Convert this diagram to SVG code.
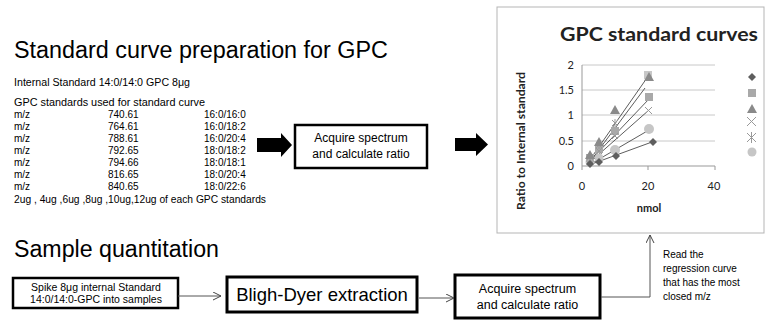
<svg xmlns="http://www.w3.org/2000/svg" width="768" height="324" viewBox="0 0 768 324">
<defs>
<style>
.t{font-family:"Liberation Sans",Arial,sans-serif;fill:#000}
.h{font-size:23px}
.s{font-size:10px}
.box{fill:#fff;stroke:#000}
.c{font-family:Lato,"Open Sans",sans-serif;fill:#222}
.grid{stroke:#c8c8c8;stroke-width:1}
.reg{stroke:#333;stroke-width:0.8;fill:none}
.conn{stroke:#555;stroke-width:1;fill:none}
</style>
<marker id="open" markerWidth="10" markerHeight="10" refX="8" refY="4" orient="auto" markerUnits="userSpaceOnUse">
<path d="M0,0 L8,4 L0,8" fill="none" stroke="#444" stroke-width="1"/>
</marker>
<path id="dia" d="M0,-4 L4,0 L0,4 L-4,0Z"/>
<rect id="sq" x="-4" y="-4" width="8" height="8"/>
<path id="tri" d="M0,-5 L5,4 L-5,4Z"/>
</defs>

<g id="prep-text">
<text class="t h" x="14" y="58" textLength="374" lengthAdjust="spacingAndGlyphs">Standard curve preparation for GPC</text>
<text class="t s" x="14" y="86" textLength="176" lengthAdjust="spacingAndGlyphs">Internal Standard 14:0/14:0 GPC 8μg</text>
<text class="t s" x="14" y="106" textLength="191" lengthAdjust="spacingAndGlyphs">GPC standards used for standard curve</text>
<g class="t s">
<text x="14" y="118">m/z</text><text x="108" y="118">740.61</text><text x="204" y="118">16:0/16:0</text>
<text x="14" y="130">m/z</text><text x="108" y="130">764.61</text><text x="204" y="130">16:0/18:2</text>
<text x="14" y="142">m/z</text><text x="108" y="142">788.61</text><text x="204" y="142">16:0/20:4</text>
<text x="14" y="154">m/z</text><text x="108" y="154">792.65</text><text x="204" y="154">18:0/18:2</text>
<text x="14" y="166">m/z</text><text x="108" y="166">794.66</text><text x="204" y="166">18:0/18:1</text>
<text x="14" y="178">m/z</text><text x="108" y="178">816.65</text><text x="204" y="178">18:0/20:4</text>
<text x="14" y="190">m/z</text><text x="108" y="190">840.65</text><text x="204" y="190">18:0/22:6</text>
</g>
<text class="t s" x="14" y="203" textLength="252" lengthAdjust="spacingAndGlyphs">2ug , 4ug ,6ug ,8ug ,10ug,12ug of each GPC standards</text>
</g>

<g id="acquire-top">
<rect class="box" x="295" y="125" width="132" height="43" stroke-width="2.5"/>
<text class="t" x="361" y="142" font-size="12" text-anchor="middle">Acquire spectrum</text>
<text class="t" x="361" y="158" font-size="12" text-anchor="middle">and calculate ratio</text>
</g>

<g id="chart">
<rect x="497" y="7" width="267" height="226" fill="#fff" stroke="#b5b5b5" stroke-width="1"/>
<text class="c" x="659" y="41" font-size="18" font-weight="bold" text-anchor="middle" textLength="198" lengthAdjust="spacingAndGlyphs">GPC standard curves</text>
<g>
<line class="grid" x1="582" y1="65" x2="715" y2="65"/>
<line class="grid" x1="582" y1="90" x2="715" y2="90"/>
<line class="grid" x1="582" y1="115" x2="715" y2="115"/>
<line class="grid" x1="582" y1="141" x2="715" y2="141"/>
<line x1="582" y1="166" x2="715" y2="166" stroke="#999"/>
<line x1="582" y1="65" x2="582" y2="166" stroke="#999"/>
<line x1="582" y1="166" x2="582" y2="170" stroke="#999"/>
<line x1="648" y1="166" x2="648" y2="170" stroke="#999"/>
<line x1="715" y1="166" x2="715" y2="170" stroke="#999"/>
</g>
<g class="c" font-size="11" text-anchor="end">
<text x="574" y="69">2</text>
<text x="574" y="94">1.5</text>
<text x="574" y="119">1</text>
<text x="574" y="145">0.5</text>
<text x="574" y="170">0</text>
</g>
<g class="c" font-size="11" text-anchor="middle">
<text x="582" y="190">0</text>
<text x="648" y="190">20</text>
<text x="714" y="190">40</text>
</g>
<text class="c" x="649" y="212" font-size="11" font-weight="bold" text-anchor="middle">nmol</text>
<text class="c" transform="translate(525,141) rotate(-90)" font-size="10.5" font-weight="bold" text-anchor="middle" textLength="138" lengthAdjust="spacingAndGlyphs">Ratio to Internal standard</text>

<g id="regression-lines">
<line class="reg" x1="589" y1="165" x2="652" y2="142"/>
<line class="reg" x1="589" y1="162" x2="649" y2="99"/>
<line class="reg" x1="589" y1="161" x2="649" y2="75"/>
<line class="reg" x1="589" y1="163" x2="649" y2="110"/>
<line class="reg" x1="589" y1="163" x2="645" y2="88"/>
<line class="reg" x1="589" y1="165" x2="649" y2="130"/>
</g>
<g id="points">
<g fill="#c6c6c6">
<circle cx="590" cy="162" r="4.5"/><circle cx="599" cy="158" r="4.5"/><circle cx="615" cy="150" r="5"/><circle cx="649" cy="129" r="5"/>
</g>
<g fill="#a9a9a9">
<use href="#sq" x="590" y="158"/><use href="#sq" x="599" y="149"/><use href="#sq" x="615" y="131"/><use href="#sq" x="649" y="97"/><use href="#sq" x="648" y="75" fill="#c8c8c8"/>
</g>
<g stroke="#999" stroke-width="1">
<path d="M587,157 l6,6 M593,157 l-6,6 M596,148 l6,6 M602,148 l-6,6 M612,133 l6,6 M618,133 l-6,6 M645,107 l7,7 M652,107 l-7,7"/>
<path d="M587,154 l6,6 M593,154 l-6,6 M590,153 v8 M596,142 l6,6 M602,142 l-6,6 M599,141 v8 M612,120 l6,6 M618,120 l-6,6 M615,119 v8"/>
</g>
<g fill="#8a8a8a">
<use href="#tri" x="590" y="155"/><use href="#tri" x="599" y="142"/><use href="#tri" x="615" y="110"/><use href="#tri" x="649" y="77"/>
</g>
<g fill="#5e5e5e">
<use href="#dia" x="590" y="164"/><use href="#dia" x="599" y="162"/><use href="#dia" x="616" y="156"/><use href="#dia" x="653" y="142"/>
</g>
</g>
<g id="legend">
<use href="#dia" x="752" y="77" fill="#5e5e5e"/>
<use href="#sq" x="752" y="93" fill="#a9a9a9"/>
<use href="#tri" x="752" y="109" fill="#8a8a8a"/>
<path d="M747,117 l9,9 M756,117 l-9,9" stroke="#999" stroke-width="1"/>
<path d="M747,133 l9,9 M756,133 l-9,9 M751.5,132 v11" stroke="#999" stroke-width="1"/>
<circle cx="752" cy="152" r="4.5" fill="#c6c6c6"/>
</g>
</g>

<g id="sample-text">
<text class="t h" x="14" y="257" textLength="205" lengthAdjust="spacingAndGlyphs">Sample quantitation</text>
</g>

<g id="spike">
<rect class="box" x="13" y="278" width="165" height="30" stroke-width="2.5"/>
<text class="t" x="96" y="291" font-size="10.5" text-anchor="middle">Spike 8μg internal Standard</text>
<text class="t" x="96" y="303" font-size="10.5" text-anchor="middle">14:0/14:0-GPC into samples</text>
</g>

<g id="bligh">
<rect class="box" x="227" y="277" width="190" height="35" stroke-width="3"/>
<text class="t" x="322" y="301" font-size="18.5" text-anchor="middle">Bligh-Dyer extraction</text>
</g>

<g id="acquire-bottom">
<rect class="box" x="455" y="275" width="145" height="43" stroke-width="3"/>
<text class="t" x="527.5" y="293" font-size="12.5" text-anchor="middle">Acquire spectrum</text>
<text class="t" x="527.5" y="309" font-size="12.5" text-anchor="middle">and calculate ratio</text>
</g>

<g id="note">
<g class="t" font-size="10">
<text x="663" y="258">Read the</text>
<text x="663" y="272">regression curve</text>
<text x="663" y="286">that has the most</text>
<text x="663" y="300">closed m/z</text>
</g>
</g>

<g id="connectors">
<polygon points="257,138 281,138 281,133 292,145 281,157 281,152 257,152" fill="#000"/>
<polygon points="455,138 476,138 476,133 488,144.5 476,156 476,151 455,151" fill="#000"/>
<line class="conn" x1="178" y1="296" x2="221" y2="296" marker-end="url(#open)"/>
<line class="conn" x1="419" y1="298" x2="454" y2="298" marker-end="url(#open)"/>
<polyline class="conn" points="601,297 650,297 650,235" marker-end="url(#open)"/>
</g>
</svg>
